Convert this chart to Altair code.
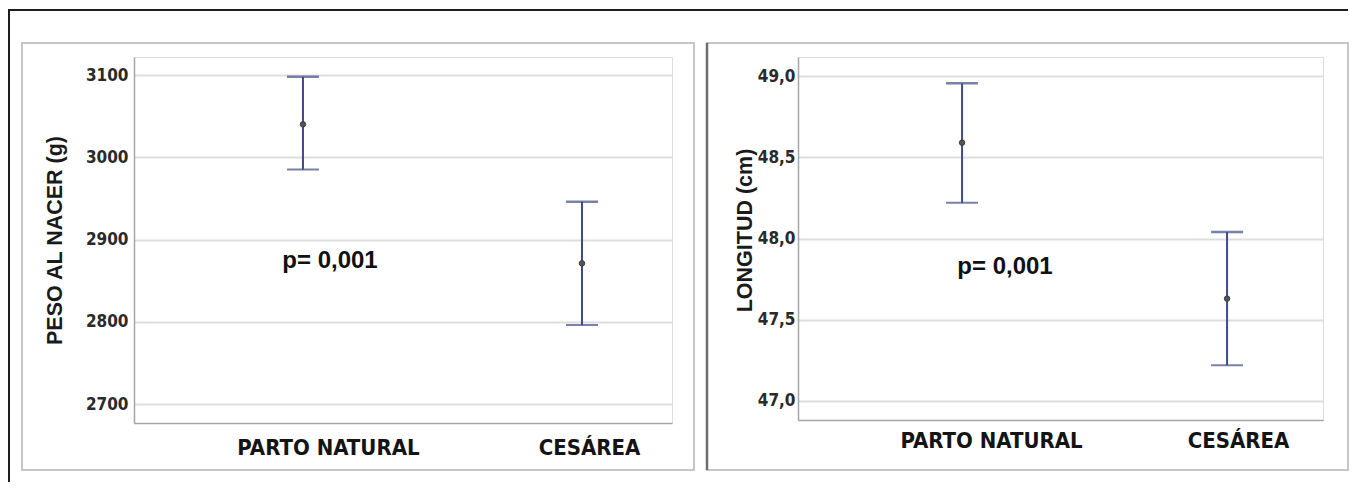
import altair as alt
import pandas as pd

# ---- data ----
grupos = ["PARTO NATURAL", "CESÁREA"]

peso_media = [3040, 2871]
peso_inf = [2985, 2796]
peso_sup = [3098, 2946]

long_media = [48.59, 47.63]
long_inf = [48.22, 47.22]
long_sup = [48.955, 48.04]

peso_ticks = [2700, 2800, 2900, 3000, 3100]
long_ticks = [47.0, 47.5, 48.0, 48.5, 49.0]

peso_titulo = "PESO AL NACER (g)"
long_titulo = "LONGITUD (cm)"
p_texto = "p= 0,001"

NAVY = "#3e4c86"
NARROW = "Liberation Sans Narrow, DejaVu Sans Condensed, Liberation Sans, sans-serif"
SANS = "Liberation Sans, Arial, sans-serif"


def panel(media, inf, sup, ticks, domain, label_expr, titulo, W, H,
          pad, align, off_pn, off_ces, lab_pad_y, title_x, title_y, lab_pad_x,
          p_x, p_y, box, dark_left=False, outer=False):
    df = pd.DataFrame({"grupo": grupos, "media": media, "inf": inf, "sup": sup})

    x = alt.X(
        "grupo:N", sort=grupos,
        scale=alt.Scale(type="point", padding=pad, align=align),
        axis=alt.Axis(
            title=None, labelAngle=0, ticks=False, grid=False, labelLimit=400,
            domainColor="#a6a6a6", domainWidth=1.5,
            labelFont=NARROW, labelFontSize=22, labelFontWeight="bold",
            labelColor="#141414", labelPadding=lab_pad_x,
            labelOffset={"condition": {"test": "datum.value == 'PARTO NATURAL'", "value": off_pn},
                         "value": off_ces},
        ),
    )
    yaxis = alt.Axis(
        values=ticks, labelExpr=label_expr, ticks=False,
        grid=True, gridColor="#dedede", gridWidth=2,
        domainColor="#a6a6a6", domainWidth=1.5,
        labelFont=NARROW, labelFontSize=17, labelFontWeight="bold",
        labelColor="#2a2a2a", labelPadding=lab_pad_y,
        title=titulo, titleFont=SANS, titleFontSize=21.5, titleFontWeight="bold",
        titleColor="#1a1a1a", titleAngle=270, titleX=title_x, titleY=title_y,
        titleAlign="center", titleBaseline="alphabetic",
    )
    yscale = alt.Scale(domain=domain, nice=False, zero=False)

    base = alt.Chart(df)
    rule = base.mark_rule(color=NAVY, strokeWidth=2).encode(
        x=x, y=alt.Y("inf:Q", scale=yscale, axis=yaxis), y2="sup:Q")
    cap_lo = base.mark_tick(color=NAVY, thickness=2, size=32).encode(
        x=x, y=alt.Y("inf:Q", scale=yscale, axis=yaxis))
    cap_hi = base.mark_tick(color=NAVY, thickness=2.5, size=32).encode(
        x=x, y=alt.Y("sup:Q", scale=yscale, axis=yaxis))
    pt = base.mark_point(filled=True, size=30, color="#555555", opacity=1,
                         stroke="#3a3a3a", strokeWidth=1).encode(
        x=x, y=alt.Y("media:Q", scale=yscale, axis=yaxis))

    one = alt.Chart(pd.DataFrame({"t": [p_texto]}))
    ptxt = one.mark_text(font=SANS, fontSize=24, fontWeight="bold", color="#111111",
                         align="center", baseline="alphabetic").encode(
        x=alt.value(p_x), y=alt.value(p_y), text="t:N")

    bx0, bx1, by0, by1 = box
    frame = one.mark_rect(fill="transparent", stroke="#c6c6c6", strokeWidth=2).encode(
        x=alt.value(bx0), x2=alt.value(bx1), y=alt.value(by0), y2=alt.value(by1))
    layers = [frame]
    if dark_left:
        layers.append(one.mark_rule(color="#6e6e6e", strokeWidth=2.5).encode(
            x=alt.value(bx0), y=alt.value(by0), y2=alt.value(by1)))
    if outer:
        layers.append(one.mark_rule(color="#1e1e1e", strokeWidth=2).encode(
            x=alt.value(-125), y=alt.value(-48), y2=alt.value(425)))
        layers.append(one.mark_rule(color="#1e1e1e", strokeWidth=2).encode(
            x=alt.value(-126), x2=alt.value(1214), y=alt.value(-47)))
    layers += [rule, cap_lo, cap_hi, pt, ptxt]
    return alt.layer(*layers).properties(width=W, height=H)


p1 = panel(peso_media, peso_inf, peso_sup, peso_ticks, [2676.9, 3121.9],
           "format(datum.value, 'd')", peso_titulo, 538, 366,
           0.464, 0.6525, 25, 7, 6, -73, 183, 14,
           196, 211, (-112, 560, -14, 413), outer=True)

p2 = panel(long_media, long_inf, long_sup, long_ticks, [46.883, 49.117],
           "replace(format(datum.value, '.1f'), '.', ',')", long_titulo, 525, 363,
           0.4906, 0.631, 29, 11, 3, -47, 173, 10,
           207, 217, (-91, 550, -14, 413), dark_left=True)

chart = alt.hconcat(p1, p2, spacing=126, bounds="flush").properties(
    padding={"left": -2, "top": -1, "right": 0, "bottom": 0}
).configure_view(strokeWidth=0).configure(background="white")

chart.save("out.html", embed_options={"renderer": "svg", "actions": False})
